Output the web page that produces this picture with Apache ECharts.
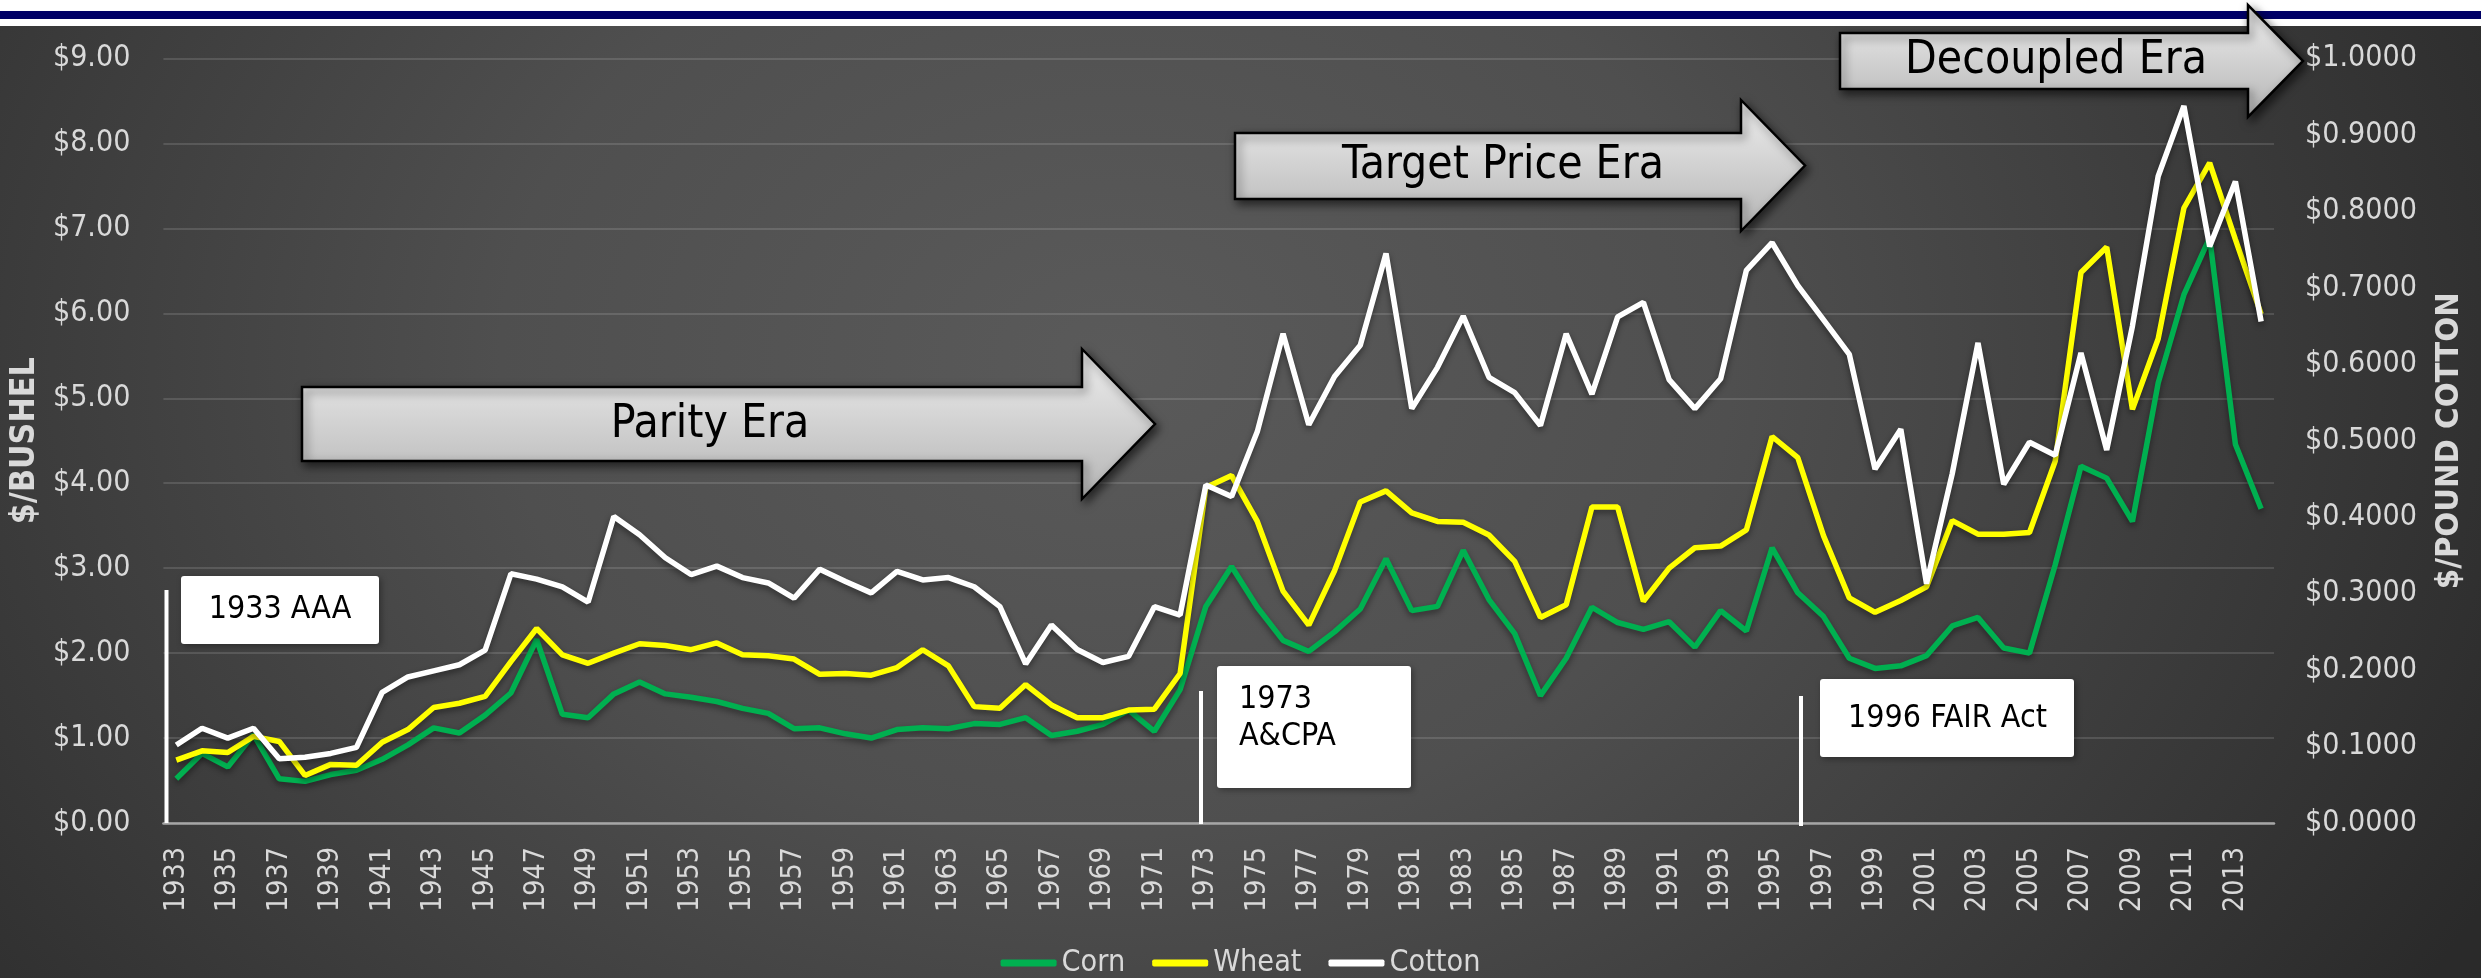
<!DOCTYPE html>
<html><head><meta charset="utf-8">
<script src="https://cdn.jsdelivr.net/npm/echarts@6/dist/echarts.min.js"></script>
<style>
html,body{margin:0;padding:0;background:#fff;overflow:hidden;}
#bg{position:absolute;left:0;top:26px;width:2481px;height:952px;
background:radial-gradient(ellipse 62% 125% at 45% 35%, #5a5a5a 0%, #4f4f4f 40%, #2a2a2a 100%);}
#chart{position:absolute;left:0;top:0;width:2481px;height:978px;}
</style></head><body>
<div id="bg"></div><div id="chart"></div>
<script>
const years = ['1933','1934','1935','1936','1937','1938','1939','1940','1941','1942',
'1943','1944','1945','1946','1947','1948','1949','1950','1951','1952',
'1953','1954','1955','1956','1957','1958','1959','1960','1961','1962',
'1963','1964','1965','1966','1967','1968','1969','1970','1971','1972',
'1973','1974','1975','1976','1977','1978','1979','1980','1981','1982',
'1983','1984','1985','1986','1987','1988','1989','1990','1991','1992',
'1993','1994','1995','1996','1997','1998','1999','2000','2001','2002',
'2003','2004','2005','2006','2007','2008','2009','2010','2011','2012',
'2013','2014'];
const corn = [0.52,0.82,0.66,1.04,0.52,0.49,0.57,0.62,0.75,0.92,
1.12,1.06,1.27,1.53,2.16,1.28,1.24,1.52,1.66,1.52,
1.48,1.43,1.35,1.29,1.11,1.12,1.05,1.00,1.10,1.12,
1.11,1.17,1.16,1.24,1.03,1.08,1.16,1.33,1.08,1.57,
2.55,3.02,2.54,2.15,2.02,2.25,2.52,3.11,2.50,2.55,
3.21,2.63,2.23,1.50,1.94,2.54,2.36,2.28,2.37,2.07,
2.50,2.26,3.24,2.71,2.43,1.94,1.82,1.85,1.97,2.32,
2.42,2.06,2.00,3.04,4.20,4.06,3.55,5.18,6.22,6.89,
4.46,3.70];
const wheat = [0.74,0.85,0.83,1.02,0.96,0.56,0.69,0.68,0.95,1.10,
1.36,1.41,1.49,1.90,2.29,1.98,1.88,2.00,2.11,2.09,
2.04,2.12,1.98,1.97,1.93,1.75,1.76,1.74,1.83,2.04,
1.85,1.37,1.35,1.63,1.39,1.24,1.24,1.33,1.34,1.76,
3.95,4.09,3.55,2.73,2.33,2.97,3.78,3.91,3.65,3.55,
3.54,3.39,3.08,2.42,2.57,3.72,3.72,2.61,3.00,3.24,
3.26,3.45,4.55,4.30,3.38,2.65,2.48,2.62,2.78,3.56,
3.40,3.40,3.42,4.26,6.48,6.78,4.87,5.70,7.24,7.77,
6.87,5.99];
const cotton = [0.102,0.124,0.111,0.124,0.084,0.086,0.091,0.099,0.171,0.191,
0.199,0.207,0.226,0.326,0.319,0.309,0.289,0.401,0.377,0.347,
0.325,0.336,0.321,0.314,0.294,0.332,0.316,0.301,0.329,0.318,
0.321,0.309,0.283,0.208,0.259,0.227,0.210,0.218,0.283,0.272,
0.442,0.427,0.512,0.640,0.521,0.584,0.625,0.745,0.542,0.596,
0.663,0.583,0.563,0.520,0.640,0.561,0.662,0.681,0.580,0.542,
0.581,0.723,0.759,0.703,0.658,0.613,0.463,0.515,0.313,0.457,
0.628,0.443,0.498,0.481,0.615,0.488,0.650,0.846,0.938,0.754,
0.839,0.656];
const seriesNames = ['Corn','Wheat','Cotton'];
const eraLabels = ['Parity Era','Target Price Era','Decoupled Era'];
const actLabels = ['1933 AAA','1973\nA&CPA','1996 FAIR Act'];

function hasFont(f){
  const c=document.createElement('canvas').getContext('2d');
  c.font='40px monospace'; const a=c.measureText('Decoupled Era 1234').width;
  c.font='40px "'+f+'", monospace'; return c.measureText('Decoupled Era 1234').width!==a;
}
const FAM = hasFont('DejaVu Sans Condensed') ? '"DejaVu Sans Condensed", sans-serif'
          : (hasFont('Liberation Sans Narrow') ? '"Liberation Sans Narrow", sans-serif' : 'Roboto, sans-serif');
const mctx=document.createElement('canvas').getContext('2d');
function fit(text,w,weight){mctx.font=(weight||'normal')+' 100px '+FAM;return 100*w/mctx.measureText(text).width;}

const FS_Y = fit('$0.2000',112);
const FS_X = fit('1933',65);
const FS_LEG = fit('Cotton',91);
const FS_ANN = fit('1996 FAIR Act',199);
const FS_ERA = fit('Decoupled Era',302);
const FS_T1 = fit('$/BUSHEL',167,'bold');
const FS_T2 = fit('$/POUND COTTON',297,'bold');

const LBL='#d9d9d9';
const arrowFill = new echarts.graphic.LinearGradient(0,0,0,1,[{offset:0,color:'#efefef'},{offset:1,color:'#b4b4b4'}]);
function arrow(x0,x1,xt,yb0,yb1,yh0,yh1){
  const ym=(yh0+yh1)/2;
  return {type:'polygon',z:50,shape:{points:[[x0,yb0],[x1,yb0],[x1,yh0],[xt,ym],[x1,yh1],[x1,yb1],[x0,yb1]]},
    style:{fill:arrowFill,stroke:'#000',lineWidth:2.5,shadowBlur:10,shadowColor:'rgba(0,0,0,0.6)',shadowOffsetX:3,shadowOffsetY:4}};
}
function txt(t,x,y,fs,align,lh){
  return {type:'text',z:52,x:x,y:y,style:{text:t,fill:'#000',fontSize:fs,fontFamily:FAM,align:align||'center',verticalAlign:'middle',lineHeight:lh||fs*1.2}};
}
function box(x,y,w,h){return {type:'rect',z:50,shape:{x:x,y:y,width:w,height:h,r:3},style:{fill:'#fff',shadowBlur:6,shadowColor:'rgba(0,0,0,0.35)',shadowOffsetX:2,shadowOffsetY:2}};}
function vline(x,y1,y2){return {type:'line',z:49,shape:{x1:x,y1:y1,x2:x,y2:y2},style:{stroke:'#fff',lineWidth:4}};}

const chart = echarts.init(document.getElementById('chart'),null,{renderer:'canvas'});
chart.setOption({
  animation:false,
  backgroundColor:'transparent',
  grid:{left:162,right:207,top:58.5,bottom:155},
  legend:{data:seriesNames,left:'center',top:943,icon:'roundRect',itemWidth:56,itemHeight:7,itemGap:27,
    textStyle:{color:LBL,fontSize:FS_LEG,fontFamily:FAM}},
  xAxis:{type:'category',data:years,boundaryGap:true,
    axisLine:{lineStyle:{color:'#a6a6a6',width:2.5}},axisTick:{show:false},
    axisLabel:{rotate:90,interval:1,color:LBL,fontSize:FS_X,fontFamily:FAM,margin:24}},
  yAxis:[
    {type:'value',min:0,max:9,interval:1,
     axisLabel:{color:LBL,fontSize:FS_Y,fontFamily:FAM,margin:33,formatter:v=>'$'+v.toFixed(2)},
     axisLine:{show:false},axisTick:{show:false},
     splitLine:{lineStyle:{color:'rgba(255,255,255,0.13)',width:2}},
     name:'$/BUSHEL',nameLocation:'middle',nameRotate:90,nameGap:120,
     nameTextStyle:{color:LBL,fontSize:FS_T1,fontWeight:'bold',fontFamily:FAM}},
    {type:'value',min:0,max:1,interval:0.1,
     axisLabel:{color:LBL,fontSize:FS_Y,fontFamily:FAM,margin:31,formatter:v=>'$'+v.toFixed(4)},
     axisLine:{show:false},axisTick:{show:false},splitLine:{show:false},
     name:'$/POUND COTTON',nameLocation:'middle',nameRotate:90,nameGap:159,
     nameTextStyle:{color:LBL,fontSize:FS_T2,fontWeight:'bold',fontFamily:FAM}}
  ],
  series:[
    {name:'Corn',type:'line',data:corn,yAxisIndex:0,symbol:'none',z:3,color:'#00b050',
     lineStyle:{width:5.5,color:'#00b050',shadowColor:'rgba(0,0,0,0.45)',shadowBlur:6,shadowOffsetY:3}},
    {name:'Wheat',type:'line',data:wheat,yAxisIndex:0,symbol:'none',z:4,color:'#ffff00',
     lineStyle:{width:5.5,color:'#ffff00',shadowColor:'rgba(0,0,0,0.45)',shadowBlur:6,shadowOffsetY:3}},
    {name:'Cotton',type:'line',data:cotton,yAxisIndex:1,symbol:'none',z:5,color:'#ffffff',
     lineStyle:{width:5.5,color:'#ffffff',shadowColor:'rgba(0,0,0,0.45)',shadowBlur:6,shadowOffsetY:3}}
  ],
  graphic:[
    {type:'rect',z:1,shape:{x:0,y:0,width:2481,height:26},style:{fill:'#ffffff'}},
    {type:'rect',z:2,shape:{x:0,y:11,width:2481,height:8},style:{fill:'#000066'}},
    vline(166.5,590,823), vline(1201,691,824), vline(1801,696,826),
    box(181,576,198,68), txt(actLabels[0],280,610,FS_ANN),
    box(1217,666,194,122), txt(actLabels[1],1239,718,FS_ANN,'left',37.5),
    box(1820,679,254,78), txt(actLabels[2],1947.5,719,FS_ANN),
    arrow(302,1082,1155,387,461,349,499), txt(eraLabels[0],710,425,FS_ERA),
    arrow(1235,1741,1805,133,199,100,231), txt(eraLabels[1],1503,166,FS_ERA),
    arrow(1840,2248,2303,33,89,5,117), txt(eraLabels[2],2056,61,FS_ERA)
  ]
});
</script></body></html>
